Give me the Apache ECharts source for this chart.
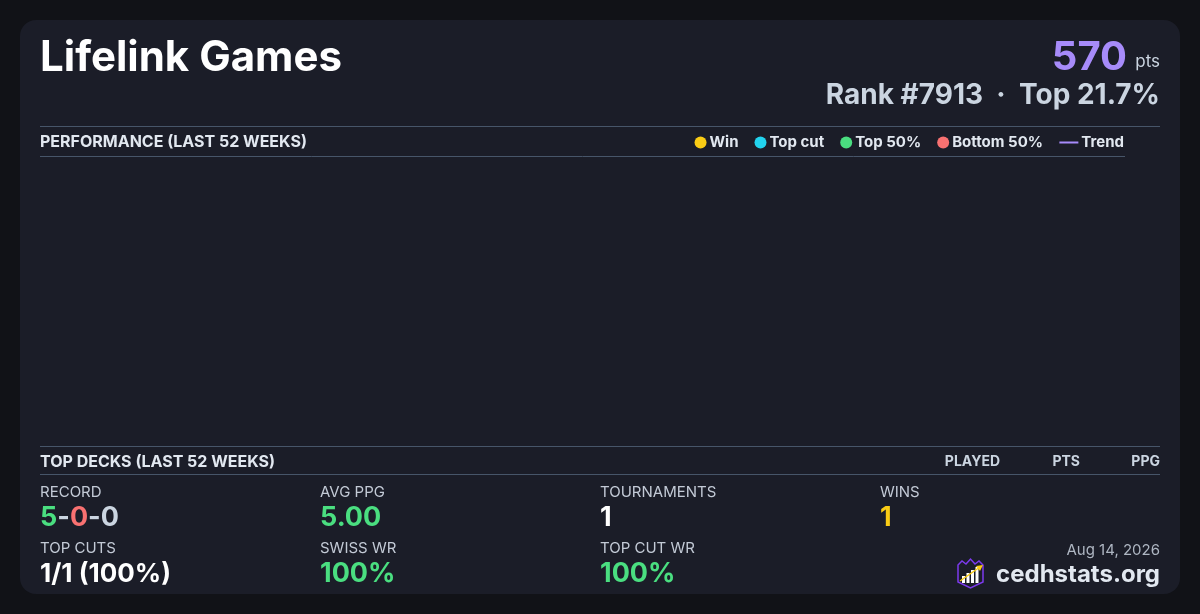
<!DOCTYPE html>
<html>
<head>
<meta charset="utf-8">
<script src="https://cdn.jsdelivr.net/npm/echarts@6/dist/echarts.min.js"></script>
<style>
html,body{margin:0;padding:0;background:#111217;}
#c{width:1200px;height:614px;}
</style>
</head>
<body>
<div id="c"></div>
<script>
// ---- data ----
const playerName = 'Lifelink Games';
const points = 570;
const rankText = 'Rank #7913  \u00B7  Top 21.7%';
const legendNames = ['Win', 'Top cut', 'Top 50%', 'Bottom 50%', 'Trend'];
const legendColors = ['#facc15', '#22d3ee', '#4ade80', '#f87171', '#a78bfa'];
// performance points (none in the last 52 weeks)
const weeks = [];
const winPts = [];
const topCutPts = [];
const top50Pts = [];
const bottom50Pts = [];
const trendPts = [];
const deckHeaders = ['PLAYED', 'PTS', 'PPG'];
const statLabelsRow1 = ['RECORD', 'AVG PPG', 'TOURNAMENTS', 'WINS'];
const statLabelsRow2 = ['TOP CUTS', 'SWISS WR', 'TOP CUT WR'];
const recordWLD = ['5', '0', '0'];
const statValuesRow1 = [null, '5.00', '1', '1'];
const statValuesRow2 = ['1/1 (100%)', '100%', '100%'];
const dateText = 'Aug 14, 2026';
const siteText = 'cedhstats.org';

const FONT = 'Inter, "Noto Sans", sans-serif';
const colX = [40, 320, 600, 880];
const lineColor = '#475569';

const chart = echarts.init(document.getElementById('c'), null, {renderer: 'canvas'});

function txt(x, y, text, size, weight, color, align) {
  return {type: 'text', x: x, y: y, silent: true,
    style: {text: text, fontSize: size, fontWeight: weight, fill: color,
      fontFamily: FONT, align: align || 'left', verticalAlign: 'middle'}};
}
function hline(x1, x2, y) {
  return {type: 'line', silent: true, shape: {x1: x1, y1: y, x2: x2, y2: y}, style: {stroke: lineColor, lineWidth: 1}};
}

const g = [];
g.push({type: 'rect', shape: {x: 20, y: 20, width: 1160, height: 574, r: 16}, style: {fill: '#1b1d28'}, z: -10, silent: true});
g.push(txt(40, 58, playerName, 42, 'bold', '#ffffff'));
g.push(txt(1127, 58, String(points), 40, 'bold', '#a78bfa', 'right'));
g.push(txt(1160, 62, 'pts', 17, 'normal', '#cbd5e1', 'right'));
g.push(txt(1160, 96, rankText, 28, 'bold', '#cbd5e1', 'right'));
g.push(hline(40, 1160, 126.5));
g.push(txt(40, 142, 'PERFORMANCE (LAST 52 WEEKS)', 16, 'bold', '#e2e8f0'));
g.push(hline(40, 1125, 156.5));
g.push(hline(40, 1160, 446.5));
g.push(txt(40, 462, 'TOP DECKS (LAST 52 WEEKS)', 16, 'bold', '#e2e8f0'));
const hdrRight = [1000, 1080, 1160];
deckHeaders.forEach((h, i) => g.push(txt(hdrRight[i], 462, h, 14, 'bold', '#cbd5e1', 'right')));
g.push(hline(40, 1160, 474.5));
statLabelsRow1.forEach((l, i) => g.push(txt(colX[i], 492, l, 15, 'normal', '#c3cad6')));
statLabelsRow2.forEach((l, i) => g.push(txt(colX[i], 548, l, 15, 'normal', '#c3cad6')));
// record rich text
g.push({type: 'text', x: 40, y: 518, silent: true, style: {
  text: '{w|' + recordWLD[0] + '}{d|-}{l|' + recordWLD[1] + '}{d|-}{t|' + recordWLD[2] + '}',
  verticalAlign: 'middle', fontFamily: FONT, fontSize: 27, fontWeight: 'bold',
  rich: {
    w: {fill: '#4ade80', fontSize: 27, fontWeight: 'bold', fontFamily: FONT},
    d: {fill: '#cbd5e1', fontSize: 27, fontWeight: 'bold', fontFamily: FONT},
    l: {fill: '#f87171', fontSize: 27, fontWeight: 'bold', fontFamily: FONT},
    t: {fill: '#cbd5e1', fontSize: 27, fontWeight: 'bold', fontFamily: FONT}
  }}});
const row1Colors = [null, '#4ade80', '#ffffff', '#facc15'];
statValuesRow1.forEach((v, i) => { if (v) g.push(txt(colX[i], 518, v, 27, 'bold', row1Colors[i])); });
const row2Colors = ['#ffffff', '#4ade80', '#4ade80'];
statValuesRow2.forEach((v, i) => g.push(txt(colX[i], 574, v, i === 0 ? 26 : 27, 'bold', row2Colors[i])));
g.push(txt(1160, 550, dateText, 15, 'normal', '#aeb6c2', 'right'));
g.push(txt(1160, 575, siteText, 24, 'bold', '#e2e8f0', 'right'));
// logo
g.push({type: 'polygon', silent: true, shape: {points: [[958,565],[962,561],[966,564],[970.5,559],[975,564],[979,561],[983,565],[983,582],[970.5,588],[958,582]]},
  style: {fill: 'none', stroke: '#7c3aed', lineWidth: 1.5}});
[[962,576,3],[966.5,573,3],[971,570,3],[975.5,567,3]].forEach(b => g.push({type:'rect', silent:true, shape:{x:b[0], y:b[1], width:b[2], height:583-b[1]}, style:{fill:'#ffffff'}}));
g.push({type:'line', silent:true, shape:{x1:960,y1:581,x2:980,y2:567}, style:{stroke:'#facc15', lineWidth:1.5}});
g.push({type:'polygon', silent:true, shape:{points:[[983,565],[976,566],[980,571]]}, style:{fill:'#facc15'}});

const option = {
  backgroundColor: '#111217',
  animation: false,
  textStyle: {fontFamily: FONT},
  grid: {left: 40, right: 40, top: 160, bottom: 170},
  xAxis: {type: 'value', min: 0, max: 52, show: false},
  yAxis: {type: 'value', min: 0, max: 10, show: false},
  legend: [
    {data: legendNames.slice(0, 4), right: 152, top: 130, icon: 'circle', itemWidth: 12, itemHeight: 12, itemGap: 16,
      itemStyle: {opacity: 1},
      textStyle: {color: '#e2e8f0', fontSize: 15, fontWeight: 'bold', fontFamily: FONT, padding: [0,0,0,-2]}, selectedMode: false},
    {data: [{name: legendNames[4], icon: 'rect'}], right: 71, top: 130, itemWidth: 19, itemHeight: 2,
      itemStyle: {opacity: 1},
      textStyle: {color: '#e2e8f0', fontSize: 15, fontWeight: 'bold', fontFamily: FONT, padding: [0,0,0,-2]}, selectedMode: false}
  ],
  series: [
    {name: legendNames[0], type: 'scatter', data: winPts, itemStyle: {color: legendColors[0], opacity: 1}},
    {name: legendNames[1], type: 'scatter', data: topCutPts, itemStyle: {color: legendColors[1], opacity: 1}},
    {name: legendNames[2], type: 'scatter', data: top50Pts, itemStyle: {color: legendColors[2], opacity: 1}},
    {name: legendNames[3], type: 'scatter', data: bottom50Pts, itemStyle: {color: legendColors[3], opacity: 1}},
    {name: legendNames[4], type: 'line', data: trendPts, showSymbol: false, lineStyle: {color: legendColors[4], width: 2}, itemStyle: {color: legendColors[4]}}
  ],
  graphic: g
};
chart.setOption(option);
</script>
</body>
</html>
